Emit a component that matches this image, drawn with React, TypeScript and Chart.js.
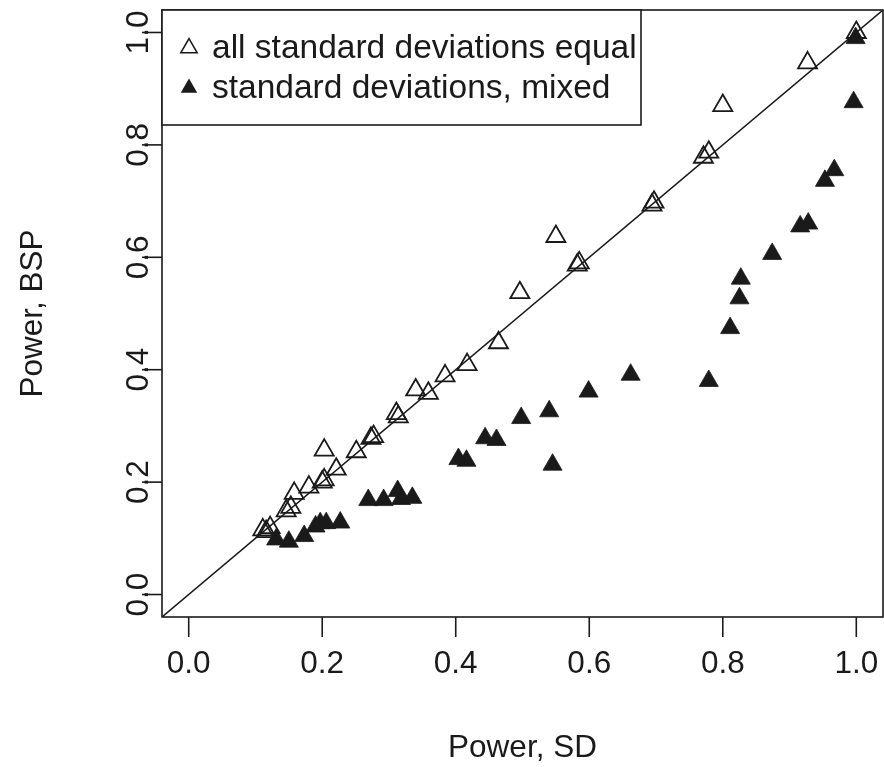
import React, { useEffect, useRef } from "react";
import { Chart, registerables } from "chart.js";

Chart.register(...registerables);

// ---- data ----
const equalSD_x = [1.0, 0.927, 0.8, 0.779, 0.771, 0.697, 0.694, 0.55, 0.585, 0.582, 0.496, 0.464, 0.417, 0.384, 0.34, 0.359, 0.311, 0.314, 0.273, 0.277, 0.251, 0.221, 0.203, 0.203, 0.2, 0.18, 0.158, 0.153, 0.146, 0.111, 0.116, 0.122];
const equalBSP_y = [1.0, 0.946, 0.87, 0.787, 0.778, 0.698, 0.693, 0.637, 0.59, 0.586, 0.537, 0.448, 0.409, 0.389, 0.364, 0.358, 0.322, 0.316, 0.278, 0.281, 0.254, 0.223, 0.257, 0.204, 0.2, 0.191, 0.18, 0.155, 0.149, 0.115, 0.112, 0.119];

const mixedSD_x = [0.999, 0.996, 0.967, 0.953, 0.928, 0.916, 0.874, 0.827, 0.825, 0.811, 0.779, 0.662, 0.599, 0.54, 0.498, 0.444, 0.461, 0.404, 0.416, 0.545, 0.313, 0.318, 0.335, 0.269, 0.292, 0.197, 0.206, 0.227, 0.19, 0.173, 0.15, 0.131];
const mixedBSP_y = [0.99, 0.876, 0.755, 0.736, 0.66, 0.655, 0.606, 0.562, 0.527, 0.474, 0.38, 0.391, 0.361, 0.326, 0.314, 0.278, 0.275, 0.241, 0.238, 0.231, 0.184, 0.17, 0.172, 0.168, 0.168, 0.127, 0.127, 0.128, 0.121, 0.104, 0.094, 0.098];

const tickValues = [0, 0.2, 0.4, 0.6, 0.8, 1.0];
const tickLabels = ["0.0", "0.2", "0.4", "0.6", "0.8", "1.0"];
const legendLabels = ["all standard deviations equal", "standard deviations, mixed"];
const xTitle = "Power, SD";
const yTitle = "Power, BSP";
const axisMin = -0.04;
const axisMax = 1.04;
const diagonalEnds = [axisMin, axisMax];

const FAMILY = "'Liberation Sans', Arial, Helvetica, sans-serif";
const FONT = "31.5px " + FAMILY;
const LEGEND_FONT = "33.5px " + FAMILY;
const INK = "#1a1a1a";

function triangle(ctx: CanvasRenderingContext2D, x: number, y: number, r: number) {
  ctx.beginPath();
  for (let i = 0; i < 3; i++) {
    const a = (i * 2 * Math.PI) / 3;
    const px = x + Math.sin(a) * r;
    const py = y - Math.cos(a) * r;
    if (i === 0) ctx.moveTo(px, py);
    else ctx.lineTo(px, py);
  }
  ctx.closePath();
}

const framePlugin = {
  id: "rframe",
  afterDraw(chart: any) {
    const { ctx, chartArea } = chart;
    const xs = chart.scales.x;
    const ys = chart.scales.y;
    const { left, right, top, bottom } = chartArea;
    ctx.save();
    ctx.strokeStyle = INK;
    ctx.fillStyle = INK;
    ctx.lineWidth = 1.6;
    // box
    ctx.strokeRect(left, top, right - left, bottom - top);
    // x ticks
    ctx.font = FONT;
    ctx.textAlign = "center";
    ctx.textBaseline = "alphabetic";
    tickValues.forEach((v, i) => {
      const px = xs.getPixelForValue(v);
      ctx.beginPath();
      ctx.moveTo(px, bottom);
      ctx.lineTo(px, bottom + 20);
      ctx.stroke();
      ctx.fillText(tickLabels[i], px, 673);
    });
    // y ticks
    tickValues.forEach((v, i) => {
      const py = ys.getPixelForValue(v);
      ctx.beginPath();
      ctx.moveTo(left - 20, py);
      ctx.lineTo(left, py);
      ctx.stroke();
      ctx.save();
      ctx.translate(148, py);
      ctx.rotate(-Math.PI / 2);
      ctx.fillText(tickLabels[i], 0, 0);
      ctx.restore();
    });
    // titles
    ctx.fillText(xTitle, (left + right) / 2, 757);
    ctx.save();
    ctx.translate(42, (top + bottom) / 2);
    ctx.rotate(-Math.PI / 2);
    ctx.fillText(yTitle, 0, 0);
    ctx.restore();
    // legend
    ctx.fillStyle = "#ffffff";
    ctx.fillRect(left, top, 641 - left, 125 - top);
    ctx.fillStyle = INK;
    ctx.strokeRect(left, top, 641 - left, 125 - top);
    ctx.font = LEGEND_FONT;
    ctx.textAlign = "left";
    const rows = [46, 86];
    rows.forEach((cy, i) => {
      triangle(ctx, 189, cy + 2, 9.5);
      if (i === 0) {
        ctx.lineWidth = 1.5;
        ctx.stroke();
      } else {
        ctx.fill();
      }
      ctx.fillText(legendLabels[i], 212, cy + 12);
    });
    ctx.restore();
  },
};

export default function App() {
  const ref = useRef<HTMLCanvasElement | null>(null);
  useEffect(() => {
    if (!ref.current) return;
    const chart = new Chart(ref.current, {
      type: "scatter",
      data: {
        datasets: [
          {
            type: "line",
            label: "diagonal",
            data: diagonalEnds.map((v) => ({ x: v, y: v })),
            borderColor: INK,
            borderWidth: 1.5,
            pointRadius: 0,
            fill: false,
          } as any,
          {
            label: legendLabels[0],
            data: equalSD_x.map((x, i) => ({ x, y: equalBSP_y[i] })),
            pointStyle: "triangle",
            pointRadius: 11,
            backgroundColor: "rgba(0,0,0,0)",
            borderColor: INK,
            borderWidth: 1.8,
          },
          {
            label: legendLabels[1],
            data: mixedSD_x.map((x, i) => ({ x, y: mixedBSP_y[i] })),
            pointStyle: "triangle",
            pointRadius: 11,
            backgroundColor: INK,
            borderColor: INK,
            borderWidth: 0.8,
          },
        ],
      },
      options: {
        animation: false,
        responsive: false,
        devicePixelRatio: 1,
        layout: { autoPadding: false, padding: { left: 162, top: 10, right: 1, bottom: 150 } },
        plugins: { legend: { display: false }, tooltip: { enabled: false } },
        scales: {
          x: { type: "linear", min: axisMin, max: axisMax, display: false },
          y: { type: "linear", min: axisMin, max: axisMax, display: false },
        },
      },
      plugins: [framePlugin],
    });
    return () => chart.destroy();
  }, []);
  return (
    <div style={{ position: "absolute", left: 0, top: 0, width: 884, height: 767, background: "#fff" }}>
      <canvas ref={ref} width={884} height={767} />
    </div>
  );
}
